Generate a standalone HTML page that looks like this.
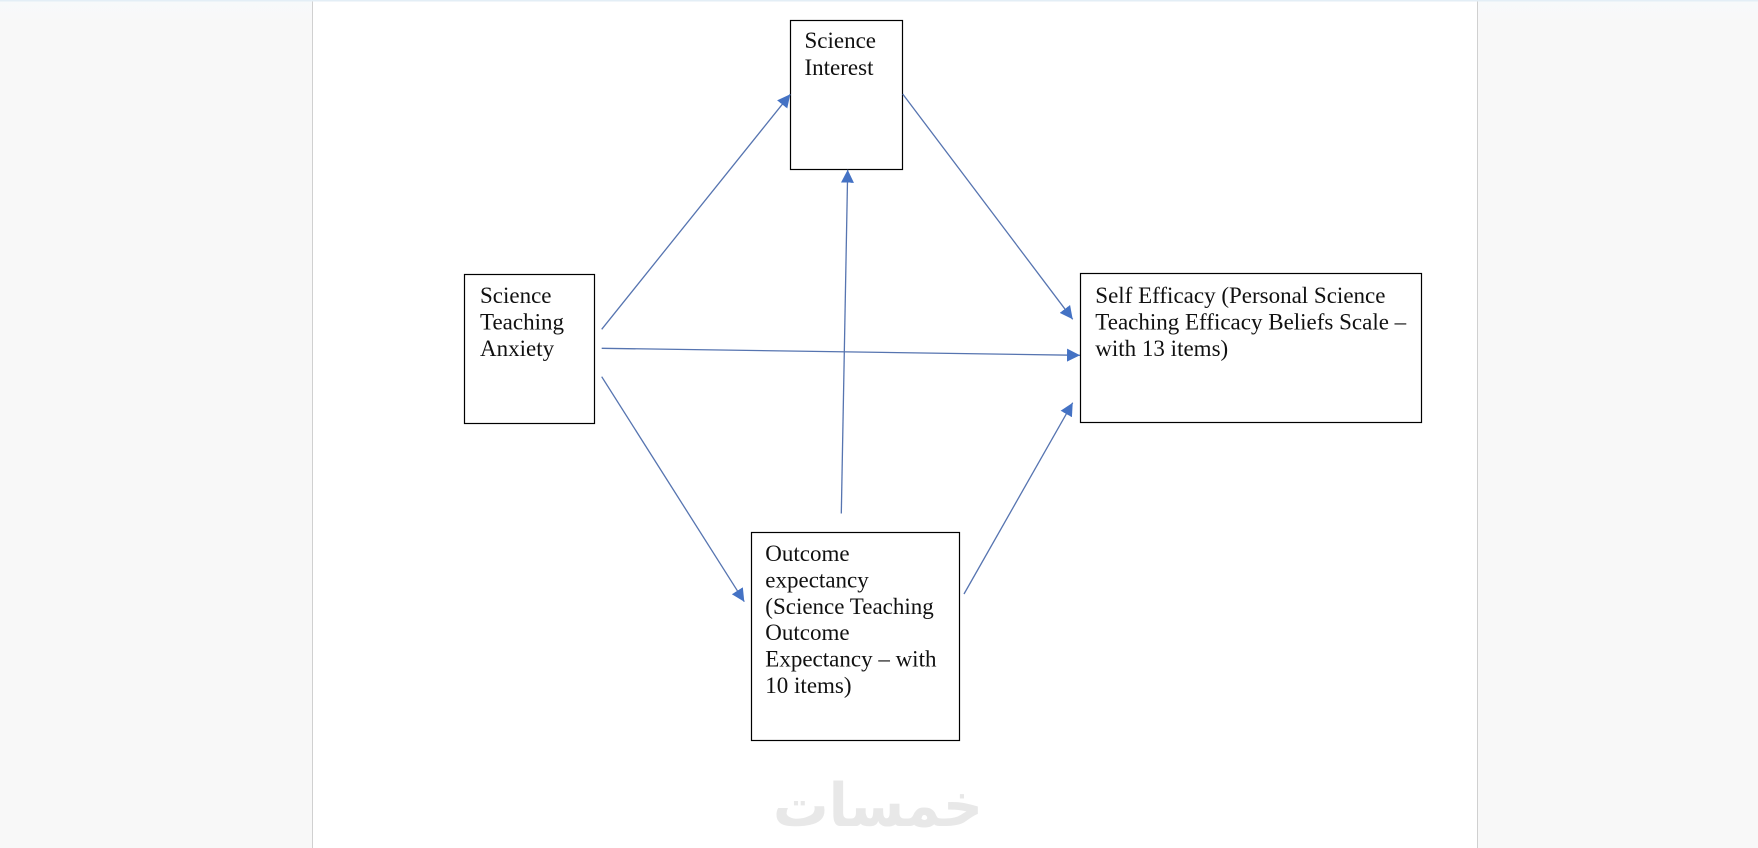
<!DOCTYPE html>
<html><head><meta charset="utf-8"><style>
html,body{margin:0;padding:0;width:1758px;height:848px;overflow:hidden;background:#f8f8f8}
svg{position:absolute;left:0;top:0}
text{font-family:"Liberation Serif",serif;font-size:23px;fill:#111}
.wm{font-family:"DejaVu Sans",sans-serif;font-weight:700;fill:#e8e8e8}
</style></head><body>
<svg width="1758" height="848" viewBox="0 0 1758 848" xmlns="http://www.w3.org/2000/svg">
<defs>
<marker id="a" markerUnits="userSpaceOnUse" markerWidth="14" markerHeight="14" refX="13" refY="7" orient="auto"><path d="M0 0.5L13 7L0 13.5Z" fill="#4472c4"/></marker>
<linearGradient id="g" x1="0" y1="0" x2="0" y2="1"><stop offset="0" stop-color="#f7f9fb"/><stop offset="1" stop-color="#f8f8f8"/></linearGradient>
</defs>
<rect x="0" y="0" width="1758" height="848" fill="#f8f8f8"/>
<rect x="0" y="0" width="1758" height="24" fill="url(#g)"/>
<rect x="313" y="0" width="1164" height="848" fill="#fff"/>
<rect x="312" y="0" width="1" height="848" fill="#d0d0d0"/>
<rect x="1477" y="0" width="1" height="848" fill="#d0d0d0"/>
<rect x="0" y="0" width="1758" height="1.5" fill="#e3eef6"/>
<g fill="#fff" stroke="#000" stroke-width="1.2">
<rect x="790.5" y="20.5" width="112" height="149"/>
<rect x="464.5" y="274.5" width="130" height="149"/>
<rect x="1080.5" y="273.5" width="341" height="149"/>
<rect x="751.5" y="532.5" width="208" height="208"/>
</g>
<g stroke="#5674b0" stroke-width="1.3" fill="none" marker-end="url(#a)">
<line x1="601.7" y1="329.3" x2="790.3" y2="94.3"/>
<line x1="902.7" y1="94" x2="1072.7" y2="319.3"/>
<line x1="601.7" y1="348.3" x2="1080" y2="355.3"/>
<line x1="601.7" y1="376.7" x2="744.3" y2="601.7"/>
<line x1="964" y1="594" x2="1072.7" y2="402.7"/>
<line x1="841.3" y1="513.5" x2="847.7" y2="169.7"/>
</g>
<text x="804.5" y="48">Science</text>
<text x="804.5" y="75">Interest</text>
<text x="480" y="303">Science</text>
<text x="480" y="329.5">Teaching</text>
<text x="480" y="356">Anxiety</text>
<text x="1095.3" y="303">Self Efficacy (Personal Science</text>
<text x="1095.3" y="329.5">Teaching Efficacy Beliefs Scale –</text>
<text x="1095.3" y="356">with 13 items)</text>
<text x="765.3" y="561">Outcome</text>
<text x="765.3" y="587.5">expectancy</text>
<text x="765.3" y="614">(Science Teaching</text>
<text x="765.3" y="640">Outcome</text>
<text x="765.3" y="666.5">Expectancy – with</text>
<text x="765.3" y="693">10 items)</text>
<text class="wm" x="878" y="826" text-anchor="middle" textLength="210" lengthAdjust="spacingAndGlyphs" direction="rtl" style="font-size:60px">خمسات</text>
</svg>
</body></html>
